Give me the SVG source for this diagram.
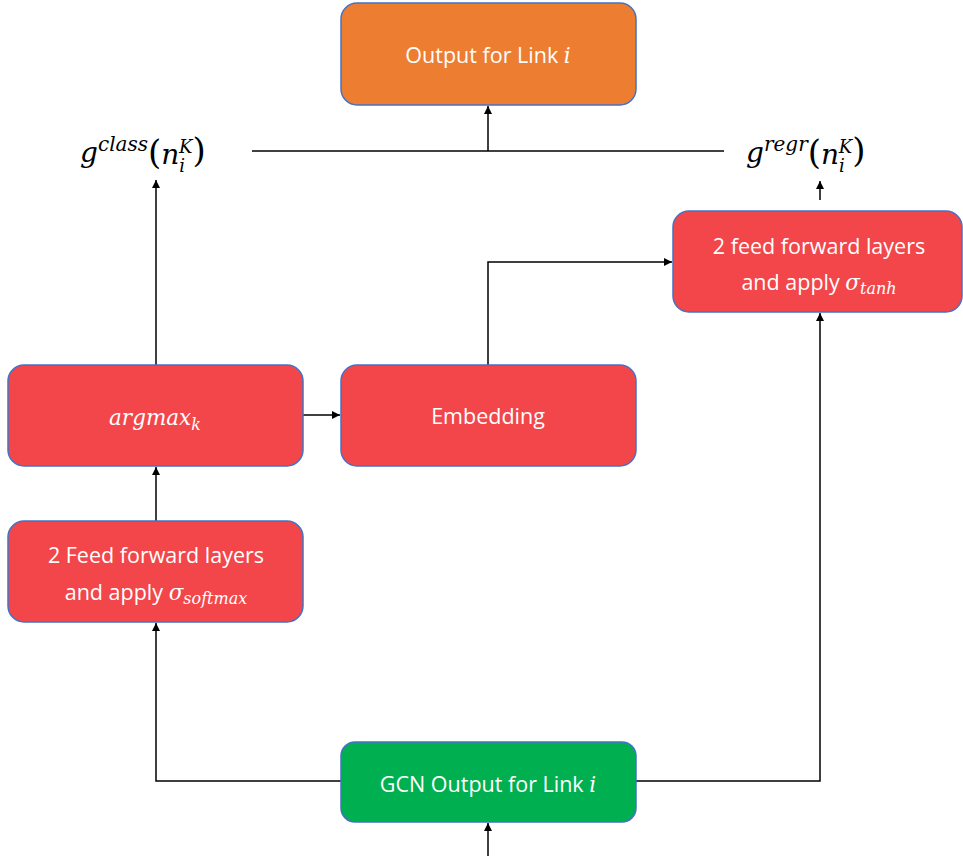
<svg xmlns="http://www.w3.org/2000/svg" width="963" height="856" viewBox="0 0 963 856">
<defs>
<marker id="ah" viewBox="0 0 10 10" refX="10" refY="5" markerWidth="8" markerHeight="8" markerUnits="userSpaceOnUse" orient="auto">
<path d="M0,0 L10,5 L0,10 z" fill="#000"/>
</marker>
<style>
.box{stroke:#4472C4;stroke-width:1.5}
.red{fill:#F2464A}
.org{fill:#ED7D31}
.grn{fill:#00B050}
.t{font-family:"Open Sans","Liberation Sans",sans-serif;font-size:21.5px;fill:#fff;text-anchor:middle}
.m{font-family:"DejaVu Serif","Liberation Serif",serif;font-style:italic}
.lbl{font-family:"DejaVu Serif","Liberation Serif",serif;font-style:italic;font-size:28px;fill:#000}
.c{fill:none;stroke:#000;stroke-width:1.5}
</style>
</defs>
<g id="connectors">
<line class="c" x1="252" y1="151" x2="724" y2="151"/>
<line class="c" x1="488" y1="151" x2="488" y2="106" marker-end="url(#ah)"/>
<line class="c" x1="156" y1="365" x2="156" y2="180" marker-end="url(#ah)"/>
<line class="c" x1="820" y1="200" x2="820" y2="181" marker-end="url(#ah)"/>
<line class="c" x1="303" y1="415" x2="340" y2="415" marker-end="url(#ah)"/>
<polyline class="c" points="488,365 488,262 672,262" marker-end="url(#ah)"/>
<line class="c" x1="156" y1="521" x2="156" y2="467" marker-end="url(#ah)"/>
<polyline class="c" points="341,781 156,781 156,623" marker-end="url(#ah)"/>
<polyline class="c" points="636,781 820,781 820,313" marker-end="url(#ah)"/>
<line class="c" x1="488" y1="856" x2="488" y2="823" marker-end="url(#ah)"/>
</g>
<g id="output">
<rect class="box org" x="341" y="3" width="295" height="102" rx="16"/>
<text class="t" x="488" y="63">Output for Link <tspan class="m">i</tspan></text>
</g>
<g id="gclass">
<text class="lbl" x="80" y="162">g<tspan font-size="20" dy="-11">class</tspan><tspan font-style="normal" font-size="34" dy="13">(</tspan>n<tspan font-size="18" dy="8">i</tspan><tspan font-size="18" dx="-6" dy="-19">K</tspan><tspan font-style="normal" font-size="34" dy="9">)</tspan></text>
</g>
<g id="gregr">
<text class="lbl" x="746" y="162">g<tspan font-size="20" dy="-11">regr</tspan><tspan font-style="normal" font-size="34" dy="13">(</tspan>n<tspan font-size="18" dy="8">i</tspan><tspan font-size="18" dx="-6" dy="-19">K</tspan><tspan font-style="normal" font-size="34" dy="9">)</tspan></text>
</g>
<g id="tanh">
<rect class="box red" x="673" y="211" width="289" height="101" rx="16"/>
<text class="t" x="819" y="254">2 feed forward layers</text>
<text class="t" x="819" y="290">and apply <tspan class="m">σ</tspan><tspan class="m" font-size="16" dy="4">tanh</tspan></text>
</g>
<g id="argmax">
<rect class="box red" x="8" y="365" width="295" height="101" rx="16"/>
<text class="t" x="155" y="425" font-size="23"><tspan class="m">argmax</tspan><tspan class="m" font-size="16" dy="5">k</tspan></text>
</g>
<g id="embedding">
<rect class="box red" x="341" y="365" width="295" height="101" rx="16"/>
<text class="t" x="488" y="424">Embedding</text>
</g>
<g id="softmax">
<rect class="box red" x="8" y="521" width="295" height="101" rx="16"/>
<text class="t" x="156" y="563">2 Feed forward layers</text>
<text class="t" x="156" y="600">and apply <tspan class="m">σ</tspan><tspan class="m" font-size="16" dy="4">softmax</tspan></text>
</g>
<g id="gcn">
<rect class="box grn" x="341" y="742" width="295" height="80" rx="14"/>
<text class="t" x="488" y="792">GCN Output for Link <tspan class="m">i</tspan></text>
</g>
</svg>
